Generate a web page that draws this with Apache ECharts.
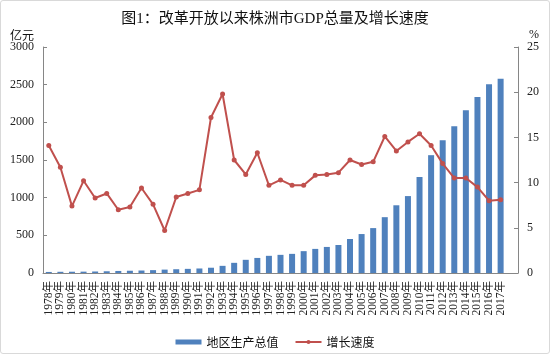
<!DOCTYPE html>
<html>
<head>
<meta charset="utf-8">
<script src="https://cdn.jsdelivr.net/npm/echarts@6/dist/echarts.min.js"></script>
<style>
    html,body{margin:0;padding:0;background:#fff;}
    #gdpChart{width:550px;height:354px;box-sizing:border-box;border:1px solid #d9d9d9;border-radius:3px;}
</style>
</head>
<body>
<div id="gdpChart"></div>
<script>
// 年份 (最后一个空类别是原图表里留下的空行)
var years = ['1978年','1979年','1980年','1981年','1982年','1983年','1984年','1985年','1986年','1987年',
    '1988年','1989年','1990年','1991年','1992年','1993年','1994年','1995年','1996年','1997年',
    '1998年','1999年','2000年','2001年','2002年','2003年','2004年','2005年','2006年','2007年',
    '2008年','2009年','2010年','2011年','2012年','2013年','2014年','2015年','2016年','2017年','']
// 地区生产总值 亿元
var gdpValues = [14,16,17,18,20,23,27,30,33,38,
    45,50,55,60,70,95,135,175,200,228,
    241,254,290,320,346,372,451,517,596,741,
    899,1021,1274,1564,1761,1947,2161,2335,2505,2580]
// 增长速度 %
var growthRates = [14.1,11.7,7.4,10.2,8.3,8.8,7.0,7.3,9.4,7.6,
    4.7,8.4,8.8,9.2,17.2,19.8,12.5,10.9,13.3,9.7,
    10.3,9.7,9.7,10.8,10.9,11.1,12.5,12.0,12.3,15.1,
    13.5,14.5,15.4,14.1,12.1,10.5,10.5,9.5,8.0,8.1]
var gdpTicks = {min:0, max:3000, interval:500}
var rateTicks = {min:0, max:25, interval:5}

var serif = '"Liberation Serif","Noto Sans CJK SC",serif'
var sans = '"Noto Sans CJK SC",sans-serif'
var axisColor = '#868686'
var textColor = '#222'

var myChart = echarts.init(document.getElementById('gdpChart'))
var option = {
    animation:false,
    title:{
        text:'图1：改革开放以来株洲市GDP总量及增长速度',
        left:'center',
        top:11,
        padding:0,
        textStyle:{
            fontFamily:serif,
            fontSize:15,
            fontWeight:'normal',
            color:'#111'
        }
    },
    legend:{
        data:[
            {name:'地区生产总值',icon:'rect'},
            {name:'增长速度'}
        ],
        left:'center',
        top:330,
        itemGap:16,
        itemWidth:26,
        itemHeight:5,
        textStyle:{
            fontFamily:sans,
            fontSize:12,
            color:'#111'
        }
    },
    grid:{
        left:42,
        right:31,
        top:46,
        bottom:80
    },
    xAxis:{
        type:'category',
        data:years,
        axisLine:{
            lineStyle:{color:axisColor,width:1}
        },
        axisTick:{
            inside:true,
            length:4,
            lineStyle:{color:axisColor}
        },
        axisLabel:{
            interval:0,
            rotate:90,
            margin:8,
            fontFamily:serif,
            fontSize:11.5,
            color:textColor
        }
    },
    yAxis:[
        {
            type:'value',
            name:'亿元',
            nameLocation:'end',
            nameGap:6,
            nameTextStyle:{
                fontFamily:sans,
                fontSize:12,
                color:'#111',
                align:'right',
                padding:[0,9,0,0]
            },
            min:gdpTicks.min,
            max:gdpTicks.max,
            interval:gdpTicks.interval,
            axisLine:{
                show:true,
                lineStyle:{color:axisColor}
            },
            axisTick:{
                show:true,
                inside:true,
                length:4,
                lineStyle:{color:axisColor}
            },
            axisLabel:{
                margin:9,
                fontFamily:serif,
                fontSize:12,
                color:textColor,
                formatter:function(v){ return String(v) }
            },
            splitLine:{show:false}
        },
        {
            type:'value',
            name:'%',
            nameLocation:'end',
            nameGap:6,
            nameTextStyle:{
                fontFamily:serif,
                fontSize:12,
                color:'#111',
                align:'left',
                padding:[0,0,0,11]
            },
            min:rateTicks.min,
            max:rateTicks.max,
            interval:rateTicks.interval,
            axisLine:{
                show:true,
                lineStyle:{color:axisColor}
            },
            axisTick:{
                show:true,
                inside:true,
                length:4,
                lineStyle:{color:axisColor}
            },
            axisLabel:{
                margin:9,
                fontFamily:serif,
                fontSize:12,
                color:textColor,
                formatter:function(v){ return String(v) }
            },
            splitLine:{show:false}
        }
    ],
    series:[
        {
            name:'地区生产总值',
            type:'bar',
            yAxisIndex:0,
            data:gdpValues,
            barWidth:6,
            itemStyle:{color:'#4F81BD'}
        },
        {
            name:'增长速度',
            type:'line',
            yAxisIndex:1,
            data:growthRates,
            symbol:'circle',
            symbolSize:5,
            lineStyle:{color:'#C0504D',width:2},
            itemStyle:{color:'#C0504D'}
        }
    ]
}
myChart.setOption(option)
</script>
</body>
</html>
